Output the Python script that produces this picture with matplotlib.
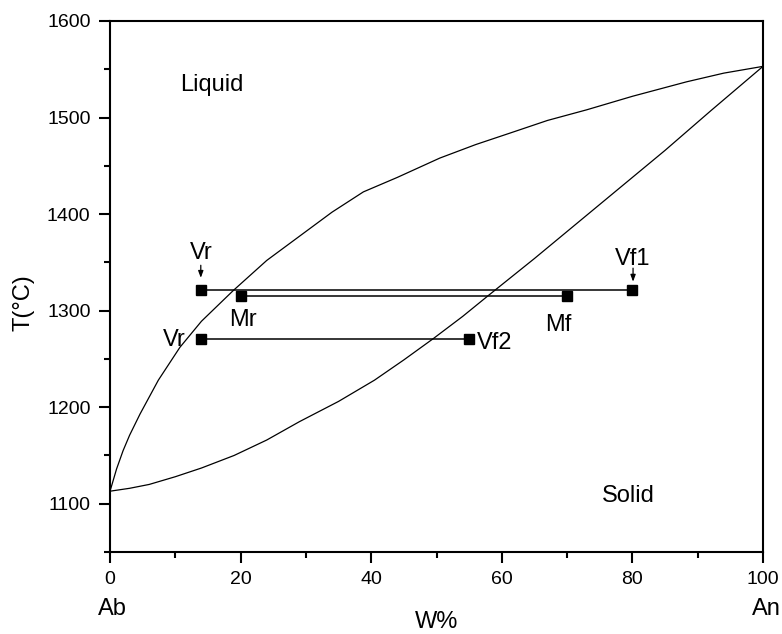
import matplotlib
matplotlib.use("Agg")
import matplotlib.pyplot as plt
from matplotlib.ticker import MultipleLocator

plt.rcParams["font.family"] = ["Liberation Sans", "DejaVu Sans"]

# ── Phase boundaries (Ab–An plagioclase) ──────────────────────────────────────
liq_w = [0, 1, 2, 3, 4.6, 7.4, 10.7, 14, 18.9, 24, 30, 34, 38.8, 44, 50.5, 56,
         61.3, 67, 73, 80, 88.3, 94, 100]
liq_t = [1113, 1136, 1155, 1171, 1193, 1228, 1262, 1289, 1321, 1352, 1382, 1402,
         1423, 1438, 1458, 1472, 1484, 1497, 1508, 1522, 1537, 1546, 1553]

sol_w = [0, 3, 6, 10, 14, 19, 24, 29, 35, 40.5, 45, 49.5, 54, 58, 65, 70, 75, 80,
         85, 92, 100]
sol_t = [1113, 1116, 1120, 1128, 1137, 1150, 1166, 1185, 1206, 1228, 1249, 1271,
         1294, 1316, 1354, 1382, 1410, 1438, 1466, 1507, 1553]

# ── Tie lines ─────────────────────────────────────────────────────────────────
tie_w = [[14, 80], [20, 70], [14, 55]]
tie_t = [1321, 1315, 1271]

fig = plt.figure(figsize=(7.82, 6.34), dpi=100)
ax = fig.add_axes([0.1407, 0.1293, 0.835, 0.8376])

ax.plot(liq_w, liq_t, color="black", lw=0.9)
ax.plot(sol_w, sol_t, color="black", lw=0.9)

for ws, t in zip(tie_w, tie_t):
    ax.plot(ws, [t, t], color="black", lw=1.1, marker="s", markersize=7.2)

# labels on the tie-line end points
fs = 17
arrow = dict(arrowstyle="-|>,head_length=0.4,head_width=0.15",
             color="black", lw=0.9, shrinkA=0, shrinkB=0)
ax.text(13.9, 1353, "Vr", fontsize=fs, ha="center", va="baseline")
ax.annotate("", xy=(13.9, 1334), xytext=(13.9, 1347), arrowprops=arrow)
ax.text(80.1, 1347, "Vf1", fontsize=fs, ha="center", va="baseline")
ax.annotate("", xy=(80.1, 1330), xytext=(80.1, 1344), arrowprops=arrow)
ax.text(20.4, 1284, "Mr", fontsize=fs, ha="center", va="baseline")
ax.text(68.6, 1279, "Mf", fontsize=fs, ha="center", va="baseline")
ax.text(11.6, 1263, "Vr", fontsize=fs, ha="right", va="baseline")
ax.text(56.2, 1260, "Vf2", fontsize=fs, ha="left", va="baseline")

ax.text(10.7, 1528, "Liquid", fontsize=fs, ha="left", va="baseline")
ax.text(75.3, 1102, "Solid", fontsize=fs, ha="left", va="baseline")

ax.set_xlim(0, 100)
ax.set_ylim(1050, 1600)
ax.xaxis.set_major_locator(MultipleLocator(20))
ax.xaxis.set_minor_locator(MultipleLocator(10))
ax.yaxis.set_major_locator(MultipleLocator(100))
ax.yaxis.set_minor_locator(MultipleLocator(50))

ax.tick_params(which="both", direction="out", width=1.5, labelsize=14)
ax.tick_params(which="major", length=8, pad=6)
ax.tick_params(which="minor", length=4.5)
for sp in ax.spines.values():
    sp.set_linewidth(1.5)

# axis titles and end-member names
ax.text(-0.133, 0.47, "T(°C)", fontsize=fs, rotation=90, ha="center", va="center",
        transform=ax.transAxes)
ax.text(0.5, -0.132, "W%", fontsize=fs, ha="center", va="center",
        transform=ax.transAxes)
ax.text(0.004, -0.107, "Ab", fontsize=fs, ha="center", va="center",
        transform=ax.transAxes)
ax.text(1.005, -0.107, "An", fontsize=fs, ha="center", va="center",
        transform=ax.transAxes)

fig.savefig("out.png", dpi=100)
